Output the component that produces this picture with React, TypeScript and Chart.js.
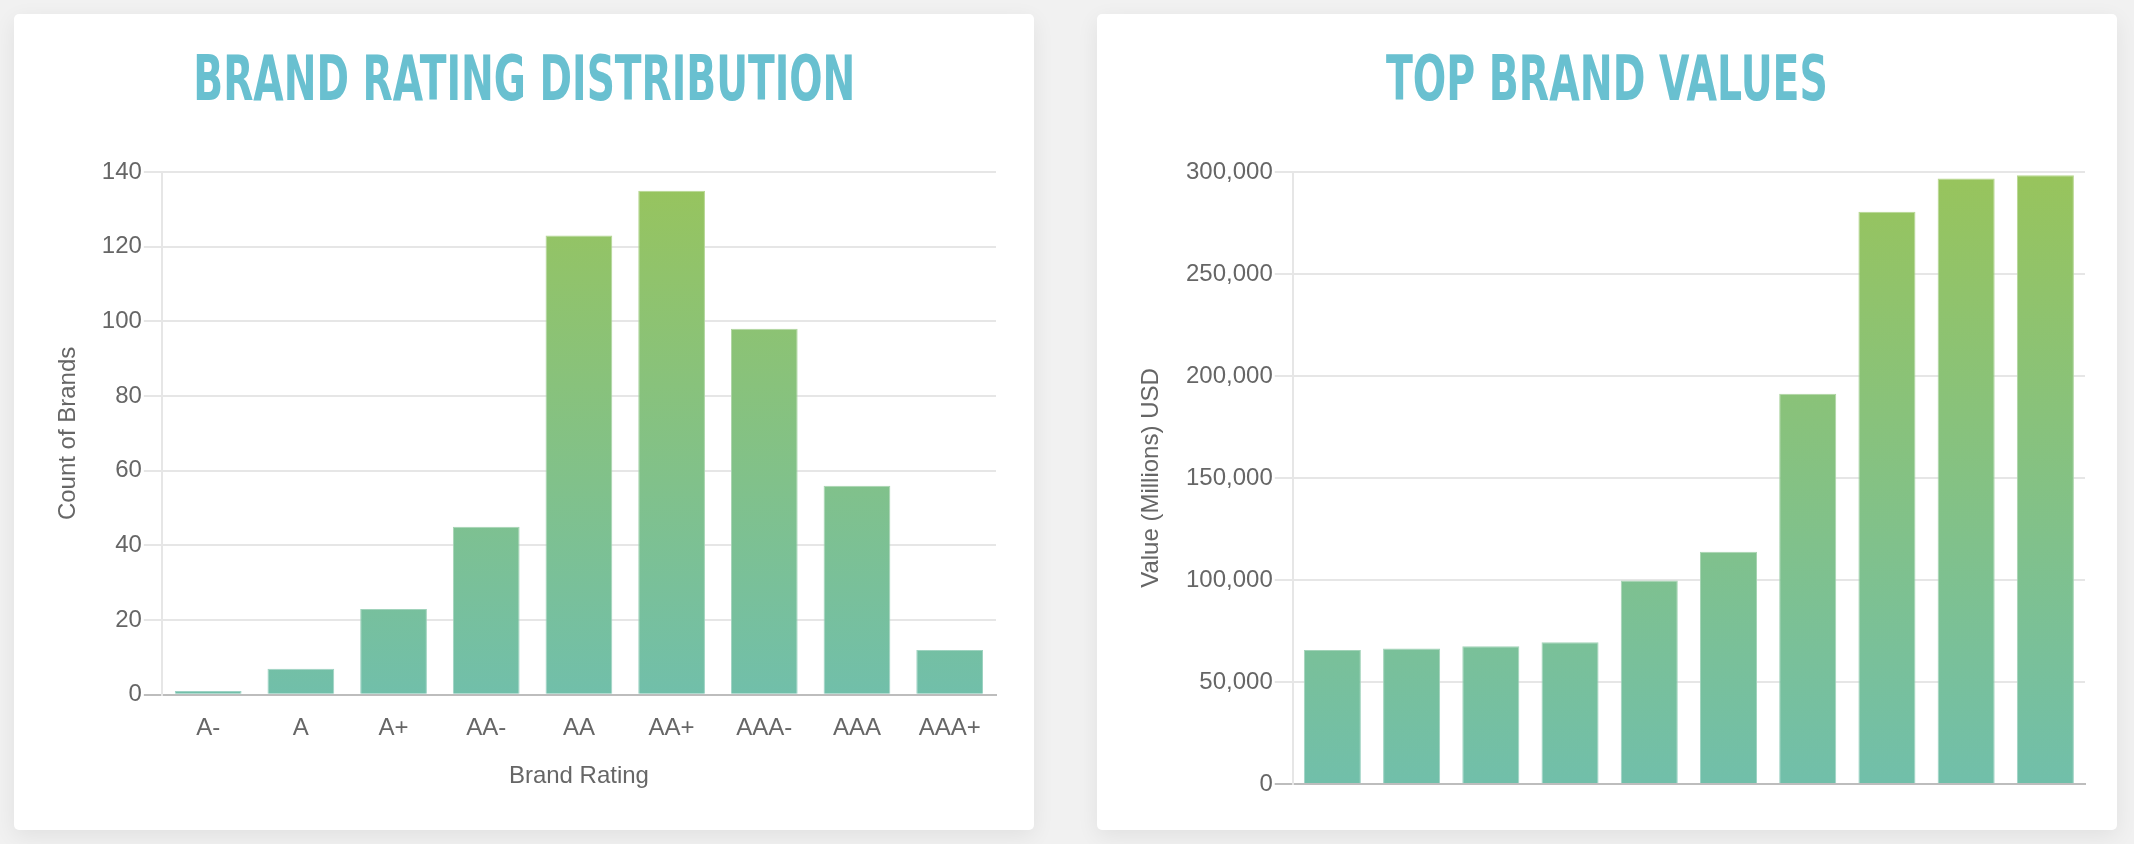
import React, { useEffect, useLayoutEffect, useRef } from "react";
import { Chart, registerables } from "chart.js";

Chart.register(...registerables);

// ---- data ----
const ratingCategories = ["A-", "A", "A+", "AA-", "AA", "AA+", "AAA-", "AAA", "AAA+"];
const ratingCounts = [1, 7, 23, 45, 123, 135, 98, 56, 12];

const brandCategories = ["Brand 10", "Brand 9", "Brand 8", "Brand 7", "Brand 6", "Brand 5", "Brand 4", "Brand 3", "Brand 2", "Brand 1"];
const brandValues = [65700, 66400, 67500, 69500, 99800, 113800, 191300, 280500, 296800, 298400];

const ratingTicks = { min: 0, max: 140, step: 20 };
const valueTicks = { min: 0, max: 300000, step: 50000 };

// ---- styles ----
const FONT = "'Liberation Sans', Arial, Helvetica, sans-serif";
const TEXT = "#666666";
const GRID = "#e6e6e6";
const ZERO = "#bdbdbd";
const TOP_C = "#98c45c";
const BOT_C = "#71bfaa";
const TOP_B = "#b7d68d";
const BOT_B = "#9cd2c4";

function gradient(chart: any, top: string, bottom: string, fallback: string) {
  const area = chart.chartArea;
  if (!area) return fallback;
  const g = chart.ctx.createLinearGradient(0, area.top, 0, area.bottom);
  g.addColorStop(0, top);
  g.addColorStop(1, bottom);
  return g;
}

function makeConfig(opts: {
  labels: string[];
  data: number[];
  ticks: { min: number; max: number; step: number };
  yTitle: string;
  xTitle?: string;
  showX: boolean;
  padding: { left: number; right: number; top: number; bottom: number };
  yTitleGap: number;
}) {
  const font = { family: FONT, size: 24 };
  return {
    type: "bar" as const,
    data: {
      labels: opts.labels,
      datasets: [
        {
          data: opts.data,
          backgroundColor: (c: any) => gradient(c.chart, TOP_C, BOT_C, "#85c283"),
          borderColor: (c: any) => gradient(c.chart, TOP_B, BOT_B, "#a9d4aa"),
          borderWidth: 1,
          barPercentage: 0.9,
          categoryPercentage: 0.8,
        },
      ],
    },
    options: {
      animation: false,
      responsive: true,
      maintainAspectRatio: false,
      layout: { padding: opts.padding },
      plugins: { legend: { display: false }, tooltip: { enabled: true }, title: { display: false } },
      scales: {
        x: {
          grid: { display: false, drawTicks: false },
          border: { display: true, color: ZERO, width: 2 },
          ticks: { display: opts.showX, color: TEXT, font, padding: 19.4 },
          title: {
            display: !!opts.xTitle,
            text: opts.xTitle || "",
            color: TEXT,
            font,
            padding: { top: 0, bottom: 4 },
          },
        },
        y: {
          min: opts.ticks.min,
          max: opts.ticks.max,
          grid: {
            color: (c: any) => (c.tick && c.tick.value === 0 ? ZERO : GRID),
            lineWidth: 2,
            tickLength: 18,
            drawTicks: true,
          },
          border: { display: true, color: GRID, width: 2 },
          ticks: {
            stepSize: opts.ticks.step,
            color: TEXT,
            font,
            padding: 2,
            callback: (v: any) => Number(v).toLocaleString("en-US"),
          },
          title: {
            display: true,
            text: opts.yTitle,
            color: TEXT,
            font,
            padding: { top: 4, bottom: opts.yTitleGap },
          },
        },
      },
    },
  };
}

function ChartCard(props: {
  left: number;
  title: string;
  titleWidth: number;
  config: any;
}) {
  const canvasRef = useRef<HTMLCanvasElement | null>(null);
  const titleRef = useRef<HTMLSpanElement | null>(null);

  useLayoutEffect(() => {
    const el = titleRef.current;
    if (!el) return;
    el.style.transform = "none";
    const w = el.getBoundingClientRect().width;
    if (w > 0) el.style.transform = `scaleX(${props.titleWidth / w})`;
  }, [props.titleWidth]);

  useEffect(() => {
    if (!canvasRef.current) return;
    const chart = new Chart(canvasRef.current, props.config);
    return () => chart.destroy();
  }, [props.config]);

  return (
    <div
      style={{
        position: "absolute",
        left: props.left,
        top: 14,
        width: 1020,
        height: 816,
        background: "#ffffff",
        borderRadius: 5,
        boxShadow: "0 6px 22px rgba(0,0,0,0.07)",
        overflow: "hidden",
      }}
    >
      <div
        style={{
          position: "absolute",
          left: 0,
          top: 34,
          width: "100%",
          textAlign: "center",
          lineHeight: "62px",
          height: 62,
        }}
      >
        <span
          ref={titleRef}
          style={{
            display: "inline-block",
            fontFamily: "'Liberation Sans Narrow', 'DejaVu Sans Condensed', 'Liberation Sans', sans-serif",
            fontWeight: 700,
            fontSize: 62,
            color: "#69c0d0",
            whiteSpace: "nowrap",
            transformOrigin: "50% 50%",
          }}
        >
          {props.title}
        </span>
      </div>
      <div style={{ position: "absolute", left: 0, top: 130, width: 1020, height: 686 }}>
        <canvas ref={canvasRef} />
      </div>
    </div>
  );
}

const leftConfig = makeConfig({
  labels: ratingCategories,
  data: ratingCounts,
  ticks: ratingTicks,
  yTitle: "Count of Brands",
  xTitle: "Brand Rating",
  showX: true,
  padding: { left: 36, right: 38, top: 28, bottom: 34.8 },
  yTitleGap: 17,
});

const rightConfig = makeConfig({
  labels: brandCategories,
  data: brandValues,
  ticks: valueTicks,
  yTitle: "Value (Millions) USD",
  showX: false,
  padding: { left: 36, right: 32, top: 28, bottom: 46 },
  yTitleGap: 18.2,
});

export default function App() {
  return (
    <div style={{ position: "fixed", inset: 0, background: "#f1f1f1", overflow: "hidden" }}>
      <ChartCard left={14} title="BRAND RATING DISTRIBUTION" titleWidth={662} config={leftConfig} />
      <ChartCard left={1097} title="TOP BRAND VALUES" titleWidth={442} config={rightConfig} />
    </div>
  );
}
